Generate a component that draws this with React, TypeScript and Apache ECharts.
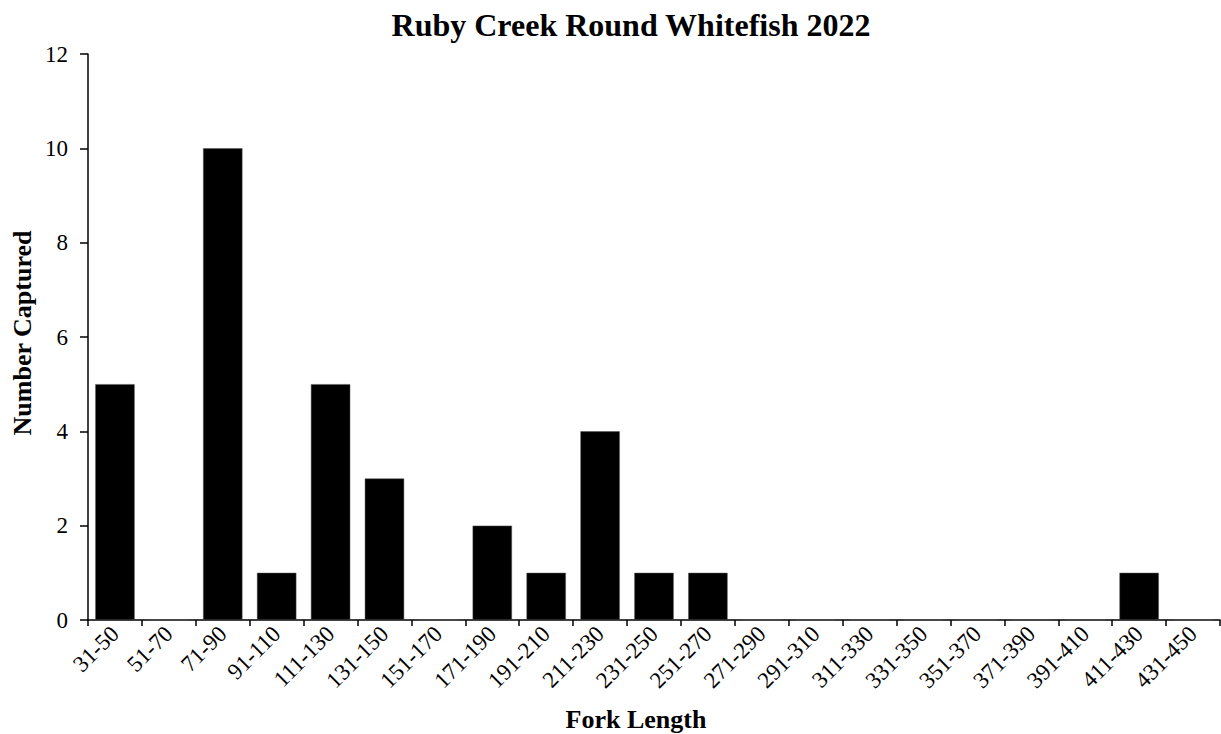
import React, { useEffect, useRef } from "react";
import * as echarts from "echarts";

const categories = [
  "31-50", "51-70", "71-90", "91-110", "111-130", "131-150", "151-170",
  "171-190", "191-210", "211-230", "231-250", "251-270", "271-290",
  "291-310", "311-330", "331-350", "351-370", "371-390", "391-410",
  "411-430", "431-450",
];
const counts = [5, 0, 10, 1, 5, 3, 0, 2, 1, 4, 1, 1, 0, 0, 0, 0, 0, 0, 0, 1, 0];

const titleText = "Ruby Creek Round Whitefish 2022";
const xName = "Fork Length";
const yName = "Number Captured";

const FONT = "'Liberation Serif', 'Times New Roman', serif";

export default function App() {
  const ref = useRef<HTMLDivElement>(null);
  useEffect(() => {
    if (!ref.current) return;
    const chart = echarts.init(ref.current, null, { renderer: "svg" });
    chart.setOption({
      animation: false,
      backgroundColor: "#fff",
      title: {
        text: titleText,
        left: 626,
        top: 4,
        textAlign: "center",
        textStyle: { fontFamily: FONT, fontWeight: "bold", fontSize: 32, color: "#000" },
      },
      graphic: [
        {
          type: "text",
          x: 636,
          y: 719,
          style: {
            text: xName,
            fontFamily: FONT,
            fontWeight: "bold",
            fontSize: 26,
            fill: "#000",
            align: "center",
            verticalAlign: "middle",
          },
        },
        {
          type: "text",
          x: 22,
          y: 333,
          rotation: Math.PI / 2,
          style: {
            text: yName,
            fontFamily: FONT,
            fontWeight: "bold",
            fontSize: 26,
            fill: "#000",
            align: "center",
            verticalAlign: "middle",
          },
        },
      ],
      grid: {
        left: 88,
        right: 1,
        top: 54,
        bottom: 114,
        containLabel: false,
        outerBoundsMode: "none",
      },
      xAxis: {
        type: "category",
        data: categories,
        axisLine: { show: true, lineStyle: { color: "#000", width: 1.5 } },
        axisTick: { show: true, length: 6, lineStyle: { color: "#000", width: 1.5 } },
        axisLabel: {
          interval: 0,
          rotate: 45,
          margin: 10,
          fontFamily: FONT,
          fontSize: 23,
          color: "#000",
        },
      },
      yAxis: {
        type: "value",
        min: 0,
        max: 12,
        interval: 2,
        axisLine: { show: true, lineStyle: { color: "#000", width: 1.5 } },
        axisTick: { show: true, length: 8, lineStyle: { color: "#000", width: 1.5 } },
        splitLine: { show: false },
        axisLabel: { margin: 20, fontFamily: FONT, fontSize: 23, color: "#000" },
      },
      series: [
        {
          type: "bar",
          data: counts,
          barCategoryGap: "27%",
          itemStyle: { color: "#000", borderColor: "#555", borderWidth: 0.5 },
        },
      ],
    });
    return () => chart.dispose();
  }, []);
  return (
    <div
      ref={ref}
      style={{ position: "fixed", left: 0, top: 0, width: 1221, height: 734 }}
    />
  );
}
